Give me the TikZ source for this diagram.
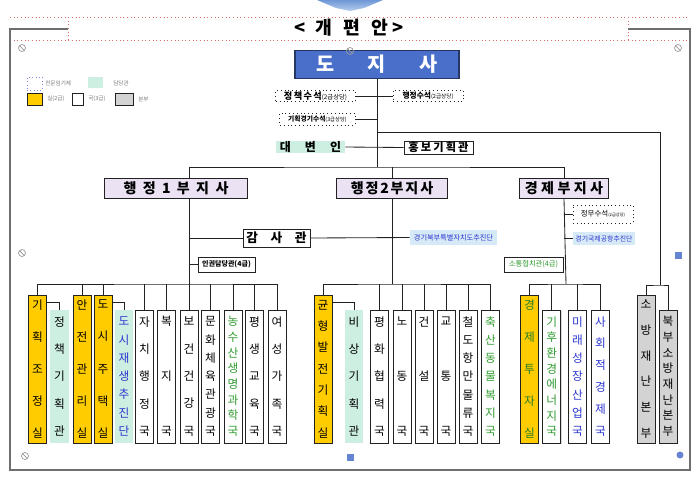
\documentclass[tikz,border=0pt]{standalone}
\usepackage{fontspec}
\setmainfont{Noto Sans CJK KR}
\usepackage{tikz}
\usetikzlibrary{shadows}
\definecolor{mysilcolor}{HTML}{FFCC00}
\definecolor{mydamdangcolor}{HTML}{CDEFE2}
\definecolor{mybonbucolor}{HTML}{D3D3D3}
\definecolor{mybujisacolor}{HTML}{EBE3F4}
\definecolor{mydojisacolor}{HTML}{4A6FCB}
\definecolor{mybluetextcolor}{HTML}{2B35D0}
\definecolor{mygreentextcolor}{HTML}{2E9B2E}
\definecolor{mychujincolor}{HTML}{D5E9F7}
\definecolor{mylinecolor}{HTML}{222222}
\definecolor{myframecolor}{HTML}{6E6E6E}
\definecolor{mytitlecolor}{HTML}{E06868}
\definecolor{mymarkcolor}{HTML}{9A9A9A}
\definecolor{mylegendcolor}{HTML}{7A7A7A}
\definecolor{myarrowtopcolor}{HTML}{6F98D6}
\definecolor{myarrowbotcolor}{HTML}{B5CDEE}
\tikzset{
  mycolbox/.style={draw=mylinecolor, line width=0.6pt, rectangle, inner sep=0pt, minimum width=0.45cm, text width=0.45cm, align=center},
  mycolfont/.style={font=\fontsize{8.3pt}{#1}\selectfont},
  mysilbox/.style={mycolbox, fill=mysilcolor, minimum height=3.7cm},
  mygukbox/.style={mycolbox, fill=white, minimum height=3.325cm, drop shadow={shadow xshift=0.7pt, shadow yshift=-0.7pt, opacity=0.3}},
  mydamdangbox/.style={mycolbox, draw=none, fill=mydamdangcolor, minimum height=3.325cm},
  mybonbubox/.style={mycolbox, fill=mybonbucolor, minimum height=3.7cm},
  mybujisabox/.style={draw=mylinecolor, line width=0.7pt, fill=mybujisacolor, rectangle, inner sep=0pt, minimum height=0.5cm, drop shadow={shadow xshift=0.8pt, shadow yshift=-0.8pt, opacity=0.3}},
  mysolidbox/.style={draw=mylinecolor, line width=0.6pt, fill=white, rectangle, inner sep=0pt, drop shadow={shadow xshift=0.7pt, shadow yshift=-0.7pt, opacity=0.3}},
  mysuseokbox/.style={draw=mylinecolor, dotted, line width=0.7pt, fill=white, rectangle, inner sep=0pt},
  mychujinbox/.style={fill=mychujincolor, rectangle, inner sep=0pt, text=mybluetextcolor},
  mylegendbox/.style={rectangle, inner sep=0pt, minimum height=0.3cm},
  mylegendtext/.style={anchor=west, inner sep=0pt, text=mylegendcolor},
  myline/.style={draw=mylinecolor, line width=0.6pt},
  mymark/.style={draw=mymarkcolor, line width=0.5pt},
}

\begin{document}
\begin{tikzpicture}[x=0.025cm, y=-0.025cm]%
\useasboundingbox (0, 0) rectangle (700, 476);%
% title
\shade[top color=myarrowtopcolor, bottom color=myarrowbotcolor] (317, 0) -- (383, 0) -- (364, 8) -- (350, 11) -- (336, 8) -- cycle;%
\draw[mytitlecolor, dotted, line width=0.6pt] (10, 17) -- (690, 17);%
\draw[mytitlecolor, dotted, line width=0.6pt] (10, 40) -- (690, 40);%
\draw[mytitlecolor, dotted, line width=0.6pt] (68, 17) -- (68, 40);%
\draw[mytitlecolor, dotted, line width=0.6pt] (628, 17) -- (628, 40);%
\draw[myframecolor, line width=0.9pt] (68, 29) -- (10, 29) -- (10, 470) -- (690, 470) -- (690, 29) -- (628, 29);%
\node (title) at (349, 28) {\fontsize{13pt}{13pt}\selectfont\bfseries <\hspace{7pt}개\hspace{8pt}편\hspace{8pt}안\hspace{3pt}>};%
% legend
\node[mylegendbox, draw=mybluetextcolor!60, dotted, minimum width=0.375cm, minimum height=0.325cm] (lgjeonmun) at (34.5, 83.5) {};%
\node[mylegendtext] (lgjeonmuntext) at (45, 83.5) {\fontsize{4pt}{4pt}\selectfont 전문임기제};%
\node[mylegendbox, fill=mydamdangcolor, minimum width=0.375cm, minimum height=0.275cm] (lgdamdang) at (95.5, 82.5) {};%
\node[mylegendtext] (lgdamdangtext) at (113, 83) {\fontsize{4pt}{4pt}\selectfont 담당관};%
\node[mylegendbox, draw=mylinecolor, fill=mysilcolor, minimum width=0.375cm] (lgsil) at (34.5, 99) {};%
\node[mylegendtext] (lgsiltext) at (47, 99) {\fontsize{4pt}{4pt}\selectfont 실(2급)};%
\node[mylegendbox, draw=mylinecolor, fill=white, minimum width=0.275cm] (lgguk) at (77.5, 99) {};%
\node[mylegendtext] (lggukText) at (88, 99) {\fontsize{4pt}{4pt}\selectfont 국(3급)};%
\node[mylegendbox, draw=mylinecolor, fill=mybonbucolor, minimum width=0.45cm] (lgbonbu) at (124, 99) {};%
\node[mylegendtext] (lgbonbutext) at (138, 99) {\fontsize{4pt}{4pt}\selectfont 본부};%
% governor and staff
\node[draw=mydojisacolor!50!black, line width=0.8pt, fill=mydojisacolor, rectangle, minimum width=4.1cm, minimum height=0.625cm, text=white] (dojisa) at (377, 64.5) {\fontsize{14pt}{14pt}\selectfont\bfseries 도\hspace{24pt}지\hspace{24pt}사};%
\node[mysuseokbox, minimum width=1.975cm, minimum height=0.275cm] (jeongchaek) at (315.5, 96) {\fontsize{6.5pt}{6.5pt}\selectfont\bfseries 정\hspace{1pt}책\hspace{1pt}수\hspace{1pt}석\fontsize{4.5pt}{4.5pt}\selectfont\mdseries (2급상당)};%
\node[mysuseokbox, minimum width=1.75cm, minimum height=0.275cm] (haengjeong) at (428, 96) {\fontsize{5.5pt}{5.5pt}\selectfont\bfseries 행정수석\fontsize{4pt}{4pt}\selectfont\mdseries (2급상당)};%
\node[mysuseokbox, minimum width=1.875cm, minimum height=0.3cm] (gihoekgg) at (317.5, 119) {\fontsize{4.8pt}{4.8pt}\selectfont\bfseries 기획경기수석\fontsize{3.8pt}{3.8pt}\selectfont\mdseries (3급상당)};%
\node[fill=mydamdangcolor, rectangle, inner sep=0pt, minimum width=1.725cm, minimum height=0.3cm] (daebyeon) at (310.5, 147) {\fontsize{8.5pt}{8.5pt}\selectfont\bfseries 대\hspace{10pt}변\hspace{10pt}인};%
\node[mysolidbox, minimum width=1.725cm, minimum height=0.325cm] (hongbo) at (438.5, 147.5) {\fontsize{8pt}{8pt}\selectfont\bfseries 홍\hspace{1.5pt}보\hspace{1.5pt}기\hspace{1.5pt}획\hspace{1.5pt}관};%
\coordinate (deputybar) at (377, 167);%
\coordinate (firetop) at (660, 132);%
\coordinate (firebar) at (660, 285);%
\draw[myline] (dojisa.south) -- (deputybar);%
\draw[myline] (jeongchaek.east) -- (haengjeong.west);%
\draw[myline] (gihoekgg.east) -- (gihoekgg.east -| dojisa.south);%
\draw[myline] (daebyeon.east) -- (hongbo.west);%
\draw[myline] (firetop -| dojisa.south) -- (firetop) -- (firebar);%
% deputies
\node[mybujisabox, minimum width=3.55cm] (haeng1) at (176, 188) {\fontsize{10pt}{10pt}\selectfont\bfseries 행\hspace{4.5pt}정\hspace{4.5pt}1\hspace{4.5pt}부\hspace{4.5pt}지\hspace{4.5pt}사};%
\node[mybujisabox, minimum width=2.75cm] (haeng2) at (392, 188) {\fontsize{10pt}{10pt}\selectfont\bfseries 행\hspace{1.3pt}정\hspace{1.3pt}2\hspace{1.3pt}부\hspace{1.3pt}지\hspace{1.3pt}사};%
\node[mybujisabox, minimum width=2.2cm] (gyeongje) at (564, 188) {\fontsize{10pt}{10pt}\selectfont\bfseries 경\hspace{2.4pt}제\hspace{2.4pt}부\hspace{2.4pt}지\hspace{2.4pt}사};%
% first deputy staff
\node[mysolidbox, minimum width=1.675cm, minimum height=0.45cm] (gamsa) at (276.5, 238) {\fontsize{9pt}{9pt}\selectfont\bfseries 감\hspace{9pt}사\hspace{9pt}관};%
\node[mysolidbox, minimum width=1.425cm, minimum height=0.375cm] (ingwon) at (226.5, 264.5) {\fontsize{5pt}{5pt}\selectfont\bfseries 인권담당관(4급)};%
\node[mychujinbox, minimum width=2.175cm, minimum height=0.375cm] (bukbuchujin) at (453.5, 237.5) {\fontsize{5.1pt}{5.1pt}\selectfont 경기북부특별자치도추진단};%
% economy deputy staff
\node[mysuseokbox, minimum width=1.5cm, minimum height=0.45cm] (jeongmu) at (603, 214) {\fontsize{5.3pt}{5.3pt}\selectfont 정무수석\fontsize{3pt}{3pt}\selectfont (2급상당)};%
\node[mychujinbox, minimum width=1.55cm, minimum height=0.325cm] (gonghang) at (604, 238.5) {\fontsize{4.9pt}{4.9pt}\selectfont 경기국제공항추진단};%
\node[mysolidbox, minimum width=1.475cm, minimum height=0.375cm, text=mygreentextcolor] (sotong) at (533.5, 264.5) {\fontsize{5.2pt}{5.2pt}\selectfont 소통협치관(4급)};%
% offices under first deputy
\node[mysilbox, mycolfont=22.85pt] (gihoek) at (37.5, 369) {기\\획\\조\\정\\실};%
\node[mydamdangbox, mycolfont=19.5pt] (jeongchaekgh) at (59.5, 376.5) {정\\책\\기\\획\\관};%
\node[mysilbox, mycolfont=22.85pt] (anjeon) at (82, 369) {안\\전\\관\\리\\실};%
\node[mysilbox, mycolfont=22.85pt] (dosijutaek) at (103, 369) {도\\시\\주\\택\\실};%
\node[mydamdangbox, mycolfont=13pt, text=mybluetextcolor] (dosijaesaeng) at (124, 376.5) {도\\시\\재\\생\\추\\진\\단};%
\node[mygukbox, mycolfont=19.5pt] (jachi) at (144.5, 376.5) {자\\치\\행\\정\\국};%
\node[mygukbox, mycolfont=39pt] (bokji) at (166.5, 376.5) {복\\지\\국};%
\node[mygukbox, mycolfont=19.5pt] (bogeon) at (189, 376.5) {보\\건\\건\\강\\국};%
\node[mygukbox, mycolfont=13pt] (munhwa) at (210.5, 376.5) {문\\화\\체\\육\\관\\광\\국};%
\node[mygukbox, mycolfont=11.14pt, text=mygreentextcolor] (nongsusan) at (233, 376.5) {농\\수\\산\\생\\명\\과\\학\\국};%
\node[mygukbox, mycolfont=19.5pt] (pyeongsaeng) at (254.5, 376.5) {평\\생\\교\\육\\국};%
\node[mygukbox, mycolfont=19.5pt] (yeoseong) at (277, 376.5) {여\\성\\가\\족\\국};%
\coordinate (bar1) at (189, 284);%
\draw[myline] (bogeon.north |- haeng1.north) |- (deputybar) -| (gyeongje.north);%
\draw[myline] (haeng2.north) -- (haeng2.north |- deputybar);%
\draw[myline] (haeng1.south -| bogeon.north) -- (bogeon.north);%
\draw[myline] (gamsa.west -| bogeon.north) -- (gamsa.west);%
\draw[myline] (gamsa.east) -- (bukbuchujin.west);%
\draw[myline] (ingwon.west -| bogeon.north) -- (ingwon.west);%
\draw[myline] (gihoek.north) |- (bar1) -| (yeoseong.north);%
\draw[myline] (anjeon.north) -- (anjeon.north |- bar1);%
\draw[myline] (dosijutaek.north) -- (dosijutaek.north |- bar1);%
\draw[myline] (jachi.north) -- (jachi.north |- bar1);%
\draw[myline] (bokji.north) -- (bokji.north |- bar1);%
\draw[myline] (munhwa.north) -- (munhwa.north |- bar1);%
\draw[myline] (nongsusan.north) -- (nongsusan.north |- bar1);%
\draw[myline] (pyeongsaeng.north) -- (pyeongsaeng.north |- bar1);%
\draw[myline] ([yshift=-2mm]gihoek.north east) -| (jeongchaekgh.north);%
\draw[myline] ([yshift=-2mm]dosijutaek.north east) -| (dosijaesaeng.north);%
% offices under second deputy
\node[mysilbox, mycolfont=15.2pt] (gyunhyeong) at (323, 369) {균\\형\\발\\전\\기\\획\\실};%
\node[mydamdangbox, mycolfont=19.5pt] (bisang) at (354, 376.5) {비\\상\\기\\획\\관};%
\node[mygukbox, mycolfont=19.5pt] (pyeonghwa) at (379.5, 376.5) {평\\화\\협\\력\\국};%
\node[mygukbox, mycolfont=39pt] (nodong) at (402, 376.5) {노\\동\\국};%
\node[mygukbox, mycolfont=39pt] (geonseol) at (424, 376.5) {건\\설\\국};%
\node[mygukbox, mycolfont=39pt] (gyotong) at (446, 376.5) {교\\통\\국};%
\node[mygukbox, mycolfont=13pt] (cheoldo) at (468, 376.5) {철\\도\\항\\만\\물\\류\\국};%
\node[mygukbox, mycolfont=13pt, text=mygreentextcolor] (chuksan) at (490.5, 376.5) {축\\산\\동\\물\\복\\지\\국};%
\coordinate (bar2) at (392, 284);%
\draw[myline] (haeng2.south) -- (bar2);%
\draw[myline] (gyunhyeong.north) |- (bar2) -| (chuksan.north);%
\draw[myline] (pyeonghwa.north) -- (pyeonghwa.north |- bar2);%
\draw[myline] (nodong.north) -- (nodong.north |- bar2);%
\draw[myline] (geonseol.north) -- (geonseol.north |- bar2);%
\draw[myline] (gyotong.north) -- (gyotong.north |- bar2);%
\draw[myline] (cheoldo.north) -- (cheoldo.north |- bar2);%
\draw[myline] ([yshift=-2mm]gyunhyeong.north east) -| (bisang.north);%
% offices under economy deputy
\node[mysilbox, mycolfont=22.85pt, text=mygreentextcolor!80!black] (gyeongjetuja) at (529.5, 369) {경\\제\\투\\자\\실};%
\node[mygukbox, mycolfont=11.14pt, text=mygreentextcolor] (gihu) at (551.7, 376.5) {기\\후\\환\\경\\에\\너\\지\\국};%
\node[mygukbox, mycolfont=13pt, text=mybluetextcolor] (mirae) at (577.5, 376.5) {미\\래\\성\\장\\산\\업\\국};%
\node[mygukbox, mycolfont=15.6pt, text=mybluetextcolor] (sahoe) at (600.5, 376.5) {사\\회\\적\\경\\제\\국};%
\coordinate (bar3) at (566, 284);%
\draw[myline] (gyeongje.south) -- (bar3);%
\draw[myline] (gyeongjetuja.north) |- (bar3) -| (sahoe.north);%
\draw[myline] (gihu.north) -- (gihu.north |- bar3);%
\draw[myline] (mirae.north) -- (mirae.north |- bar3);%
\draw[myline] (jeongmu.west -| gyeongje.south) -- (jeongmu.west);%
\draw[myline] (gonghang.west -| gyeongje.south) -- (gonghang.west);%
\draw[myline] (sotong.east) -- (sotong.east -| gyeongje.south);%
% fire headquarters
\node[mybonbubox, mycolfont=18.3pt] (sobang) at (646, 369) {소\\방\\재\\난\\본\\부};%
\node[mybonbubox, mycolfont=11.14pt, minimum height=3.325cm] (bukbusobang) at (668, 376.5) {북\\부\\소\\방\\재\\난\\본\\부};%
\draw[myline] (sobang.north) |- (firebar) -| (bukbusobang.north);%
% editor marks
\draw[mymark] (22, 48) circle (3.5) (19.5, 45.5) -- (24.5, 50.5);%
\draw[mymark] (350, 51) circle (3.5) (347.5, 48.5) -- (352.5, 53.5);%
\draw[mymark] (678, 48) circle (3.5) (675.5, 45.5) -- (680.5, 50.5);%
\draw[mymark] (22, 253) circle (3.5) (19.5, 250.5) -- (24.5, 255.5);%
\draw[mymark] (25, 456) circle (3.5) (22.5, 453.5) -- (27.5, 458.5);%
\fill[mydojisacolor!85] (346.5, 453.5) rectangle (353.5, 460.5);%
\fill[mydojisacolor!85] (675, 252) rectangle (682, 259);%
\fill[mydojisacolor!85] (680, 455) circle (3.5);%
\end{tikzpicture}
\end{document}
